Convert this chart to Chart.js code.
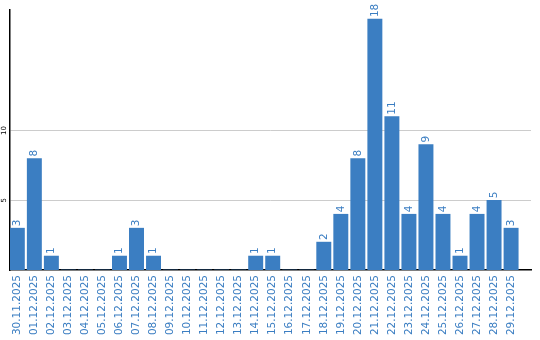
<!DOCTYPE html>
<html>
<head>
<meta charset="utf-8">
<script src="https://cdn.jsdelivr.net/npm/chart.js@4/dist/chart.umd.min.js"></script>
<style>
  html, body { margin: 0; padding: 0; background: #fff; }
  #wrap { width: 540px; height: 340px; }
</style>
</head>
<body>
<div id="wrap"><canvas id="chart"></canvas></div>
<script>
const days = [
  "30.11.2025", "01.12.2025", "02.12.2025", "03.12.2025", "04.12.2025",
  "05.12.2025", "06.12.2025", "07.12.2025", "08.12.2025", "09.12.2025",
  "10.12.2025", "11.12.2025", "12.12.2025", "13.12.2025", "14.12.2025",
  "15.12.2025", "16.12.2025", "17.12.2025", "18.12.2025", "19.12.2025",
  "20.12.2025", "21.12.2025", "22.12.2025", "23.12.2025", "24.12.2025",
  "25.12.2025", "26.12.2025", "27.12.2025", "28.12.2025", "29.12.2025"
];
const counts = [3, 8, 1, 0, 0, 0, 1, 3, 1, 0, 0, 0, 0, 0, 1, 1, 0, 0, 2, 4, 8, 18, 11, 4, 9, 4, 1, 4, 5, 3];
const yTicks = [5, 10];

const blue = "#3b7ec2";

// value labels above bars, rotated like the axis labels
const valueLabels = {
  id: "valueLabels",
  afterDatasetsDraw(chart) {
    const ctx = chart.ctx;
    const meta = chart.getDatasetMeta(0);
    ctx.save();
    ctx.fillStyle = blue;
    ctx.font = "10.5px 'DejaVu Sans'";
    ctx.textAlign = "left";
    ctx.textBaseline = "middle";
    meta.data.forEach((bar, i) => {
      if (!counts[i]) return;
      ctx.save();
      ctx.translate(bar.x, bar.y - 2);
      ctx.rotate(-Math.PI / 2);
      ctx.fillText(String(counts[i]), 0, 0);
      ctx.restore();
    });
    ctx.restore();
  }
};

const ctx = document.getElementById("chart").getContext("2d");
new Chart(ctx, {
  type: "bar",
  data: {
    datasets: [{
      data: counts.map((c, i) => ({ x: i, y: c })),
      backgroundColor: blue,
      barThickness: 14.3
    }]
  },
  options: {
    responsive: true,
    maintainAspectRatio: false,
    animation: false,
    layout: { padding: { top: 10, right: 9, left: 0, bottom: 0 } },
    plugins: { legend: { display: false }, tooltip: { enabled: false } },
    scales: {
      x: {
        type: "linear",
        offset: false,
        min: -0.43,
        max: 30.17,
        grid: { display: false, drawTicks: false, offset: false },
        border: { color: "#000", width: 1.5 },
        ticks: {
          color: blue,
          font: { family: "DejaVu Sans", size: 10.5 },
          minRotation: 90,
          maxRotation: 90,
          autoSkip: false,
          padding: 5,
          callback: v => days[v]
        },
        afterBuildTicks(scale) { scale.ticks = days.map((d, i) => ({ value: i })); },
        afterFit(scale) { scale.height = 70; }
      },
      y: {
        min: 0,
        max: 18.65,
        grid: { color: "#cccccc", lineWidth: 1, drawTicks: false },
        border: { color: "#000", width: 1.5 },
        ticks: {
          color: "#000",
          font: { family: "DejaVu Sans", size: 7 },
          minRotation: 90,
          maxRotation: 90,
          crossAlign: "center",
          padding: 1
        },
        afterBuildTicks(scale) { scale.ticks = yTicks.map(v => ({ value: v })); },
        afterFit(scale) { scale.width = 10; }
      }
    }
  },
  plugins: [valueLabels]
});
</script>
</body>
</html>
